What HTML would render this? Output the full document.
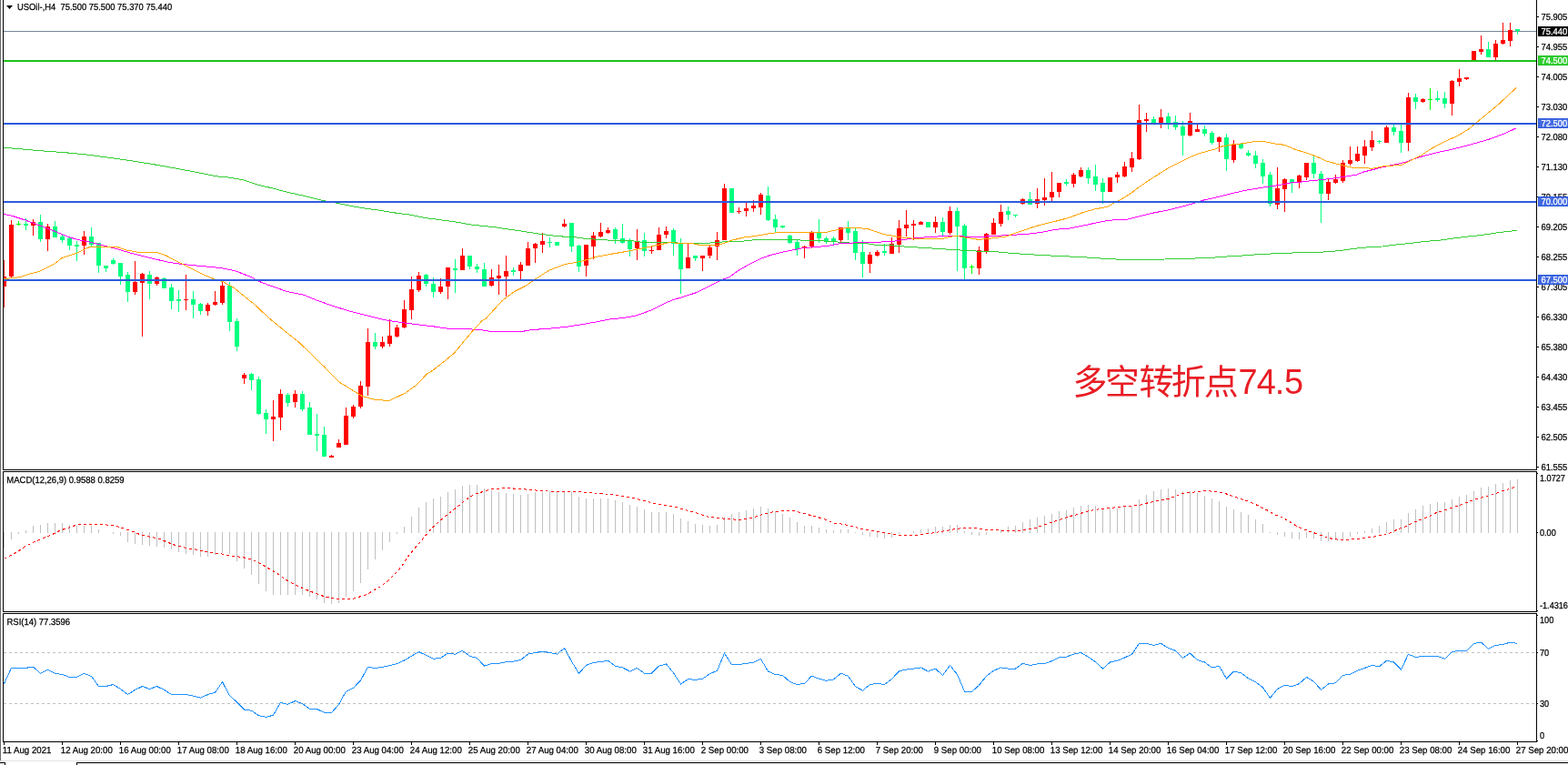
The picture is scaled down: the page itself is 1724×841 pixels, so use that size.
<!DOCTYPE html><html><head><meta charset="utf-8"><title>USOil H4</title><style>html,body{margin:0;padding:0;background:#fff;}svg{display:block;}text{white-space:pre;}</style></head><body><svg width="1724" height="841" viewBox="0 0 1724 841" shape-rendering="crispEdges" font-family="'Liberation Sans', Arial, sans-serif">
<rect x="0" y="0" width="1724" height="841" fill="#FFFFFF"/>
<rect x="0" y="0" width="1" height="836" fill="#696969"/>
<defs><clipPath id="cm"><rect x="4" y="0" width="1685" height="516"/></clipPath><clipPath id="cmacd"><rect x="4" y="519" width="1685" height="153"/></clipPath><clipPath id="crsi"><rect x="4" y="675" width="1685" height="140"/></clipPath></defs>
<g clip-path="url(#cm)">
<rect x="4" y="34" width="1685" height="1" fill="#778899"/>
<rect x="4" y="286" width="1" height="52" fill="#FF0000"/>
<rect x="2" y="304" width="5" height="11" fill="#FF0000"/>
<rect x="12" y="242" width="1" height="64" fill="#FF0000"/>
<rect x="10" y="247" width="5" height="57" fill="#FF0000"/>
<rect x="20" y="243" width="1" height="5" fill="#00FF00"/>
<rect x="18" y="246" width="5" height="1" fill="#00FF00"/>
<rect x="28" y="240" width="1" height="13" fill="#00FF7F"/>
<rect x="26" y="246" width="5" height="2" fill="#00FF7F"/>
<rect x="36" y="241" width="1" height="18" fill="#FF0000"/>
<rect x="34" y="244" width="5" height="4" fill="#FF0000"/>
<rect x="44" y="236" width="1" height="30" fill="#00FF7F"/>
<rect x="42" y="244" width="5" height="19" fill="#00FF7F"/>
<rect x="52" y="246" width="1" height="30" fill="#FF0000"/>
<rect x="50" y="249" width="5" height="14" fill="#FF0000"/>
<rect x="60" y="243" width="1" height="18" fill="#00FF7F"/>
<rect x="58" y="249" width="5" height="12" fill="#00FF7F"/>
<rect x="68" y="258" width="1" height="9" fill="#00FF7F"/>
<rect x="66" y="260" width="5" height="4" fill="#00FF7F"/>
<rect x="76" y="261" width="1" height="14" fill="#00FF7F"/>
<rect x="74" y="262" width="5" height="8" fill="#00FF7F"/>
<rect x="84" y="265" width="1" height="22" fill="#00FF7F"/>
<rect x="82" y="269" width="5" height="2" fill="#00FF7F"/>
<rect x="92" y="254" width="1" height="26" fill="#FF0000"/>
<rect x="90" y="260" width="5" height="10" fill="#FF0000"/>
<rect x="100" y="250" width="1" height="21" fill="#00FF7F"/>
<rect x="98" y="260" width="5" height="9" fill="#00FF7F"/>
<rect x="108" y="267" width="1" height="33" fill="#00FF7F"/>
<rect x="106" y="267" width="5" height="25" fill="#00FF7F"/>
<rect x="116" y="292" width="1" height="7" fill="#00FF7F"/>
<rect x="114" y="292" width="5" height="3" fill="#00FF7F"/>
<rect x="124" y="284" width="1" height="7" fill="#00FF7F"/>
<rect x="122" y="286" width="5" height="4" fill="#00FF7F"/>
<rect x="132" y="289" width="1" height="24" fill="#00FF7F"/>
<rect x="130" y="289" width="5" height="15" fill="#00FF7F"/>
<rect x="140" y="299" width="1" height="33" fill="#00FF7F"/>
<rect x="138" y="302" width="5" height="19" fill="#00FF7F"/>
<rect x="148" y="287" width="1" height="37" fill="#FF0000"/>
<rect x="146" y="310" width="5" height="11" fill="#FF0000"/>
<rect x="156" y="300" width="1" height="70" fill="#FF0000"/>
<rect x="154" y="301" width="5" height="10" fill="#FF0000"/>
<rect x="164" y="298" width="1" height="31" fill="#00FF7F"/>
<rect x="162" y="302" width="5" height="10" fill="#00FF7F"/>
<rect x="172" y="304" width="1" height="10" fill="#FF0000"/>
<rect x="170" y="305" width="5" height="7" fill="#FF0000"/>
<rect x="180" y="305" width="1" height="12" fill="#00FF7F"/>
<rect x="178" y="306" width="5" height="11" fill="#00FF7F"/>
<rect x="188" y="312" width="1" height="28" fill="#00FF7F"/>
<rect x="186" y="316" width="5" height="15" fill="#00FF7F"/>
<rect x="196" y="319" width="1" height="24" fill="#00FF7F"/>
<rect x="194" y="329" width="5" height="2" fill="#00FF7F"/>
<rect x="204" y="302" width="1" height="39" fill="#FF0000"/>
<rect x="202" y="329" width="5" height="1" fill="#FF0000"/>
<rect x="212" y="320" width="1" height="30" fill="#00FF7F"/>
<rect x="210" y="329" width="5" height="6" fill="#00FF7F"/>
<rect x="220" y="333" width="1" height="13" fill="#00FF7F"/>
<rect x="218" y="334" width="5" height="8" fill="#00FF7F"/>
<rect x="228" y="333" width="1" height="14" fill="#FF0000"/>
<rect x="226" y="335" width="5" height="7" fill="#FF0000"/>
<rect x="236" y="320" width="1" height="16" fill="#FF0000"/>
<rect x="234" y="332" width="5" height="3" fill="#FF0000"/>
<rect x="244" y="309" width="1" height="26" fill="#FF0000"/>
<rect x="242" y="314" width="5" height="19" fill="#FF0000"/>
<rect x="252" y="310" width="1" height="54" fill="#00FF7F"/>
<rect x="250" y="314" width="5" height="40" fill="#00FF7F"/>
<rect x="260" y="350" width="1" height="36" fill="#00FF7F"/>
<rect x="258" y="353" width="5" height="28" fill="#00FF7F"/>
<rect x="268" y="410" width="1" height="12" fill="#FF0000"/>
<rect x="266" y="412" width="5" height="4" fill="#FF0000"/>
<rect x="276" y="410" width="1" height="19" fill="#00FF7F"/>
<rect x="274" y="411" width="5" height="7" fill="#00FF7F"/>
<rect x="284" y="414" width="1" height="42" fill="#00FF7F"/>
<rect x="282" y="417" width="5" height="38" fill="#00FF7F"/>
<rect x="292" y="450" width="1" height="27" fill="#00FF7F"/>
<rect x="290" y="454" width="5" height="7" fill="#00FF7F"/>
<rect x="300" y="440" width="1" height="45" fill="#FF0000"/>
<rect x="298" y="458" width="5" height="3" fill="#FF0000"/>
<rect x="308" y="428" width="1" height="45" fill="#FF0000"/>
<rect x="306" y="433" width="5" height="26" fill="#FF0000"/>
<rect x="316" y="432" width="1" height="15" fill="#00FF7F"/>
<rect x="314" y="434" width="5" height="9" fill="#00FF7F"/>
<rect x="324" y="429" width="1" height="19" fill="#FF0000"/>
<rect x="322" y="433" width="5" height="9" fill="#FF0000"/>
<rect x="332" y="430" width="1" height="22" fill="#00FF7F"/>
<rect x="330" y="433" width="5" height="17" fill="#00FF7F"/>
<rect x="340" y="442" width="1" height="36" fill="#00FF7F"/>
<rect x="338" y="448" width="5" height="30" fill="#00FF7F"/>
<rect x="348" y="455" width="1" height="41" fill="#00FF7F"/>
<rect x="346" y="477" width="5" height="2" fill="#00FF7F"/>
<rect x="356" y="469" width="1" height="33" fill="#00FF7F"/>
<rect x="354" y="478" width="5" height="24" fill="#00FF7F"/>
<rect x="364" y="500" width="1" height="3" fill="#FF0000"/>
<rect x="362" y="501" width="5" height="2" fill="#FF0000"/>
<rect x="372" y="483" width="1" height="9" fill="#FF0000"/>
<rect x="370" y="487" width="5" height="5" fill="#FF0000"/>
<rect x="380" y="448" width="1" height="41" fill="#FF0000"/>
<rect x="378" y="457" width="5" height="32" fill="#FF0000"/>
<rect x="388" y="445" width="1" height="15" fill="#FF0000"/>
<rect x="386" y="447" width="5" height="11" fill="#FF0000"/>
<rect x="396" y="419" width="1" height="30" fill="#FF0000"/>
<rect x="394" y="424" width="5" height="23" fill="#FF0000"/>
<rect x="404" y="361" width="1" height="74" fill="#FF0000"/>
<rect x="402" y="376" width="5" height="49" fill="#FF0000"/>
<rect x="412" y="366" width="1" height="18" fill="#00FF7F"/>
<rect x="410" y="376" width="5" height="5" fill="#00FF7F"/>
<rect x="420" y="370" width="1" height="13" fill="#FF0000"/>
<rect x="418" y="376" width="5" height="5" fill="#FF0000"/>
<rect x="428" y="351" width="1" height="30" fill="#FF0000"/>
<rect x="426" y="369" width="5" height="9" fill="#FF0000"/>
<rect x="436" y="357" width="1" height="14" fill="#FF0000"/>
<rect x="434" y="360" width="5" height="10" fill="#FF0000"/>
<rect x="444" y="330" width="1" height="31" fill="#FF0000"/>
<rect x="442" y="340" width="5" height="20" fill="#FF0000"/>
<rect x="452" y="304" width="1" height="47" fill="#FF0000"/>
<rect x="450" y="318" width="5" height="23" fill="#FF0000"/>
<rect x="460" y="299" width="1" height="22" fill="#FF0000"/>
<rect x="458" y="303" width="5" height="16" fill="#FF0000"/>
<rect x="468" y="301" width="1" height="14" fill="#00FF7F"/>
<rect x="466" y="302" width="5" height="10" fill="#00FF7F"/>
<rect x="476" y="305" width="1" height="22" fill="#00FF7F"/>
<rect x="474" y="312" width="5" height="9" fill="#00FF7F"/>
<rect x="484" y="306" width="1" height="17" fill="#FF0000"/>
<rect x="482" y="315" width="5" height="6" fill="#FF0000"/>
<rect x="492" y="294" width="1" height="35" fill="#FF0000"/>
<rect x="490" y="294" width="5" height="21" fill="#FF0000"/>
<rect x="500" y="285" width="1" height="37" fill="#00FF7F"/>
<rect x="498" y="295" width="5" height="2" fill="#00FF7F"/>
<rect x="508" y="273" width="1" height="24" fill="#FF0000"/>
<rect x="506" y="281" width="5" height="16" fill="#FF0000"/>
<rect x="516" y="281" width="1" height="15" fill="#00FF7F"/>
<rect x="514" y="281" width="5" height="12" fill="#00FF7F"/>
<rect x="524" y="290" width="1" height="10" fill="#00FF7F"/>
<rect x="522" y="293" width="5" height="3" fill="#00FF7F"/>
<rect x="532" y="289" width="1" height="26" fill="#00FF7F"/>
<rect x="530" y="296" width="5" height="19" fill="#00FF7F"/>
<rect x="540" y="296" width="1" height="19" fill="#FF0000"/>
<rect x="538" y="305" width="5" height="9" fill="#FF0000"/>
<rect x="548" y="291" width="1" height="33" fill="#FF0000"/>
<rect x="546" y="303" width="5" height="3" fill="#FF0000"/>
<rect x="556" y="281" width="1" height="45" fill="#FF0000"/>
<rect x="554" y="298" width="5" height="6" fill="#FF0000"/>
<rect x="564" y="294" width="1" height="9" fill="#00FF7F"/>
<rect x="562" y="297" width="5" height="2" fill="#00FF7F"/>
<rect x="572" y="288" width="1" height="19" fill="#FF0000"/>
<rect x="570" y="291" width="5" height="7" fill="#FF0000"/>
<rect x="580" y="266" width="1" height="26" fill="#FF0000"/>
<rect x="578" y="273" width="5" height="19" fill="#FF0000"/>
<rect x="588" y="267" width="1" height="22" fill="#FF0000"/>
<rect x="586" y="268" width="5" height="5" fill="#FF0000"/>
<rect x="596" y="256" width="1" height="22" fill="#FF0000"/>
<rect x="594" y="265" width="5" height="4" fill="#FF0000"/>
<rect x="604" y="261" width="1" height="11" fill="#00FF7F"/>
<rect x="602" y="266" width="5" height="1" fill="#00FF7F"/>
<rect x="612" y="266" width="1" height="4" fill="#00FF7F"/>
<rect x="610" y="266" width="5" height="4" fill="#00FF7F"/>
<rect x="620" y="241" width="1" height="9" fill="#FF0000"/>
<rect x="618" y="246" width="5" height="3" fill="#FF0000"/>
<rect x="628" y="245" width="1" height="32" fill="#00FF7F"/>
<rect x="626" y="245" width="5" height="26" fill="#00FF7F"/>
<rect x="636" y="269" width="1" height="30" fill="#00FF7F"/>
<rect x="634" y="270" width="5" height="23" fill="#00FF7F"/>
<rect x="644" y="269" width="1" height="35" fill="#FF0000"/>
<rect x="642" y="269" width="5" height="23" fill="#FF0000"/>
<rect x="652" y="255" width="1" height="30" fill="#FF0000"/>
<rect x="650" y="259" width="5" height="12" fill="#FF0000"/>
<rect x="660" y="245" width="1" height="16" fill="#FF0000"/>
<rect x="658" y="255" width="5" height="5" fill="#FF0000"/>
<rect x="668" y="250" width="1" height="7" fill="#FF0000"/>
<rect x="666" y="253" width="5" height="3" fill="#FF0000"/>
<rect x="676" y="250" width="1" height="18" fill="#00FF7F"/>
<rect x="674" y="252" width="5" height="11" fill="#00FF7F"/>
<rect x="684" y="246" width="1" height="22" fill="#00FF7F"/>
<rect x="682" y="262" width="5" height="5" fill="#00FF7F"/>
<rect x="692" y="262" width="1" height="20" fill="#00FF7F"/>
<rect x="690" y="265" width="5" height="9" fill="#00FF7F"/>
<rect x="700" y="252" width="1" height="34" fill="#FF0000"/>
<rect x="698" y="266" width="5" height="7" fill="#FF0000"/>
<rect x="708" y="256" width="1" height="26" fill="#00FF7F"/>
<rect x="706" y="264" width="5" height="12" fill="#00FF7F"/>
<rect x="716" y="270" width="1" height="9" fill="#FF0000"/>
<rect x="714" y="275" width="5" height="1" fill="#FF0000"/>
<rect x="724" y="250" width="1" height="25" fill="#FF0000"/>
<rect x="722" y="258" width="5" height="17" fill="#FF0000"/>
<rect x="732" y="249" width="1" height="13" fill="#FF0000"/>
<rect x="730" y="254" width="5" height="4" fill="#FF0000"/>
<rect x="740" y="251" width="1" height="30" fill="#00FF7F"/>
<rect x="738" y="253" width="5" height="15" fill="#00FF7F"/>
<rect x="748" y="262" width="1" height="61" fill="#00FF7F"/>
<rect x="746" y="267" width="5" height="29" fill="#00FF7F"/>
<rect x="756" y="268" width="1" height="27" fill="#FF0000"/>
<rect x="754" y="283" width="5" height="12" fill="#FF0000"/>
<rect x="764" y="281" width="1" height="6" fill="#00FF7F"/>
<rect x="762" y="281" width="5" height="3" fill="#00FF7F"/>
<rect x="772" y="281" width="1" height="17" fill="#FF0000"/>
<rect x="770" y="281" width="5" height="3" fill="#FF0000"/>
<rect x="780" y="270" width="1" height="14" fill="#FF0000"/>
<rect x="778" y="272" width="5" height="9" fill="#FF0000"/>
<rect x="788" y="255" width="1" height="31" fill="#FF0000"/>
<rect x="786" y="264" width="5" height="7" fill="#FF0000"/>
<rect x="796" y="202" width="1" height="62" fill="#FF0000"/>
<rect x="794" y="207" width="5" height="57" fill="#FF0000"/>
<rect x="804" y="207" width="1" height="27" fill="#00FF7F"/>
<rect x="802" y="207" width="5" height="27" fill="#00FF7F"/>
<rect x="812" y="228" width="1" height="7" fill="#FF0000"/>
<rect x="810" y="232" width="5" height="1" fill="#FF0000"/>
<rect x="820" y="223" width="1" height="15" fill="#FF0000"/>
<rect x="818" y="229" width="5" height="3" fill="#FF0000"/>
<rect x="828" y="220" width="1" height="13" fill="#FF0000"/>
<rect x="826" y="226" width="5" height="3" fill="#FF0000"/>
<rect x="836" y="212" width="1" height="24" fill="#FF0000"/>
<rect x="834" y="214" width="5" height="14" fill="#FF0000"/>
<rect x="844" y="205" width="1" height="38" fill="#00FF7F"/>
<rect x="842" y="215" width="5" height="27" fill="#00FF7F"/>
<rect x="852" y="236" width="1" height="19" fill="#00FF7F"/>
<rect x="850" y="241" width="5" height="9" fill="#00FF7F"/>
<rect x="860" y="248" width="1" height="3" fill="#00FF7F"/>
<rect x="858" y="248" width="5" height="2" fill="#00FF7F"/>
<rect x="868" y="258" width="1" height="10" fill="#00FF7F"/>
<rect x="866" y="259" width="5" height="8" fill="#00FF7F"/>
<rect x="876" y="263" width="1" height="18" fill="#00FF7F"/>
<rect x="874" y="266" width="5" height="8" fill="#00FF7F"/>
<rect x="884" y="270" width="1" height="14" fill="#FF0000"/>
<rect x="882" y="271" width="5" height="2" fill="#FF0000"/>
<rect x="892" y="254" width="1" height="19" fill="#FF0000"/>
<rect x="890" y="256" width="5" height="15" fill="#FF0000"/>
<rect x="900" y="241" width="1" height="26" fill="#00FF7F"/>
<rect x="898" y="256" width="5" height="6" fill="#00FF7F"/>
<rect x="908" y="260" width="1" height="8" fill="#00FF7F"/>
<rect x="906" y="262" width="5" height="3" fill="#00FF7F"/>
<rect x="916" y="260" width="1" height="9" fill="#00FF7F"/>
<rect x="914" y="262" width="5" height="3" fill="#00FF7F"/>
<rect x="924" y="250" width="1" height="16" fill="#FF0000"/>
<rect x="922" y="250" width="5" height="14" fill="#FF0000"/>
<rect x="932" y="243" width="1" height="21" fill="#00FF7F"/>
<rect x="930" y="251" width="5" height="5" fill="#00FF7F"/>
<rect x="940" y="251" width="1" height="35" fill="#00FF7F"/>
<rect x="938" y="254" width="5" height="24" fill="#00FF7F"/>
<rect x="948" y="264" width="1" height="41" fill="#00FF7F"/>
<rect x="946" y="277" width="5" height="13" fill="#00FF7F"/>
<rect x="956" y="277" width="1" height="23" fill="#FF0000"/>
<rect x="954" y="280" width="5" height="10" fill="#FF0000"/>
<rect x="964" y="275" width="1" height="7" fill="#FF0000"/>
<rect x="962" y="277" width="5" height="4" fill="#FF0000"/>
<rect x="972" y="268" width="1" height="13" fill="#00FF7F"/>
<rect x="970" y="276" width="5" height="2" fill="#00FF7F"/>
<rect x="980" y="261" width="1" height="18" fill="#FF0000"/>
<rect x="978" y="268" width="5" height="11" fill="#FF0000"/>
<rect x="988" y="242" width="1" height="36" fill="#FF0000"/>
<rect x="986" y="251" width="5" height="18" fill="#FF0000"/>
<rect x="996" y="231" width="1" height="29" fill="#FF0000"/>
<rect x="994" y="247" width="5" height="4" fill="#FF0000"/>
<rect x="1004" y="242" width="1" height="22" fill="#FF0000"/>
<rect x="1002" y="246" width="5" height="2" fill="#FF0000"/>
<rect x="1012" y="243" width="1" height="4" fill="#FF0000"/>
<rect x="1010" y="244" width="5" height="3" fill="#FF0000"/>
<rect x="1020" y="244" width="1" height="6" fill="#00FF7F"/>
<rect x="1018" y="244" width="5" height="6" fill="#00FF7F"/>
<rect x="1028" y="238" width="1" height="18" fill="#FF0000"/>
<rect x="1026" y="244" width="5" height="6" fill="#FF0000"/>
<rect x="1036" y="239" width="1" height="20" fill="#00FF7F"/>
<rect x="1034" y="244" width="5" height="11" fill="#00FF7F"/>
<rect x="1044" y="227" width="1" height="31" fill="#FF0000"/>
<rect x="1042" y="232" width="5" height="24" fill="#FF0000"/>
<rect x="1052" y="228" width="1" height="70" fill="#00FF7F"/>
<rect x="1050" y="232" width="5" height="17" fill="#00FF7F"/>
<rect x="1060" y="246" width="1" height="61" fill="#00FF7F"/>
<rect x="1058" y="248" width="5" height="47" fill="#00FF7F"/>
<rect x="1068" y="291" width="1" height="10" fill="#00FF00"/>
<rect x="1066" y="293" width="5" height="1" fill="#00FF00"/>
<rect x="1076" y="271" width="1" height="31" fill="#FF0000"/>
<rect x="1074" y="275" width="5" height="20" fill="#FF0000"/>
<rect x="1084" y="256" width="1" height="23" fill="#FF0000"/>
<rect x="1082" y="257" width="5" height="19" fill="#FF0000"/>
<rect x="1092" y="240" width="1" height="18" fill="#FF0000"/>
<rect x="1090" y="245" width="5" height="13" fill="#FF0000"/>
<rect x="1100" y="225" width="1" height="24" fill="#FF0000"/>
<rect x="1098" y="233" width="5" height="13" fill="#FF0000"/>
<rect x="1108" y="227" width="1" height="15" fill="#00FF7F"/>
<rect x="1106" y="232" width="5" height="4" fill="#00FF7F"/>
<rect x="1116" y="236" width="1" height="3" fill="#00FF7F"/>
<rect x="1114" y="236" width="5" height="1" fill="#00FF7F"/>
<rect x="1124" y="218" width="1" height="7" fill="#FF0000"/>
<rect x="1122" y="219" width="5" height="5" fill="#FF0000"/>
<rect x="1132" y="211" width="1" height="14" fill="#00FF7F"/>
<rect x="1130" y="219" width="5" height="6" fill="#00FF7F"/>
<rect x="1140" y="207" width="1" height="22" fill="#FF0000"/>
<rect x="1138" y="219" width="5" height="5" fill="#FF0000"/>
<rect x="1148" y="196" width="1" height="30" fill="#FF0000"/>
<rect x="1146" y="217" width="5" height="3" fill="#FF0000"/>
<rect x="1156" y="189" width="1" height="32" fill="#FF0000"/>
<rect x="1154" y="211" width="5" height="6" fill="#FF0000"/>
<rect x="1164" y="201" width="1" height="16" fill="#FF0000"/>
<rect x="1162" y="201" width="5" height="10" fill="#FF0000"/>
<rect x="1172" y="197" width="1" height="7" fill="#00FF7F"/>
<rect x="1170" y="200" width="5" height="2" fill="#00FF7F"/>
<rect x="1180" y="190" width="1" height="16" fill="#FF0000"/>
<rect x="1178" y="192" width="5" height="10" fill="#FF0000"/>
<rect x="1188" y="184" width="1" height="11" fill="#FF0000"/>
<rect x="1186" y="187" width="5" height="7" fill="#FF0000"/>
<rect x="1196" y="184" width="1" height="18" fill="#00FF7F"/>
<rect x="1194" y="187" width="5" height="9" fill="#00FF7F"/>
<rect x="1204" y="181" width="1" height="29" fill="#00FF7F"/>
<rect x="1202" y="194" width="5" height="9" fill="#00FF7F"/>
<rect x="1212" y="196" width="1" height="28" fill="#00FF7F"/>
<rect x="1210" y="201" width="5" height="10" fill="#00FF7F"/>
<rect x="1220" y="195" width="1" height="16" fill="#FF0000"/>
<rect x="1218" y="195" width="5" height="16" fill="#FF0000"/>
<rect x="1228" y="189" width="1" height="12" fill="#FF0000"/>
<rect x="1226" y="192" width="5" height="3" fill="#FF0000"/>
<rect x="1236" y="178" width="1" height="17" fill="#FF0000"/>
<rect x="1234" y="183" width="5" height="11" fill="#FF0000"/>
<rect x="1244" y="167" width="1" height="22" fill="#FF0000"/>
<rect x="1242" y="174" width="5" height="10" fill="#FF0000"/>
<rect x="1252" y="115" width="1" height="61" fill="#FF0000"/>
<rect x="1250" y="132" width="5" height="43" fill="#FF0000"/>
<rect x="1260" y="124" width="1" height="21" fill="#FF0000"/>
<rect x="1258" y="131" width="5" height="2" fill="#FF0000"/>
<rect x="1268" y="128" width="1" height="7" fill="#00FF7F"/>
<rect x="1266" y="131" width="5" height="4" fill="#00FF7F"/>
<rect x="1276" y="120" width="1" height="21" fill="#FF0000"/>
<rect x="1274" y="129" width="5" height="6" fill="#FF0000"/>
<rect x="1284" y="124" width="1" height="18" fill="#00FF7F"/>
<rect x="1282" y="128" width="5" height="7" fill="#00FF7F"/>
<rect x="1292" y="127" width="1" height="16" fill="#00FF7F"/>
<rect x="1290" y="134" width="5" height="6" fill="#00FF7F"/>
<rect x="1300" y="133" width="1" height="38" fill="#00FF7F"/>
<rect x="1298" y="139" width="5" height="10" fill="#00FF7F"/>
<rect x="1308" y="124" width="1" height="26" fill="#FF0000"/>
<rect x="1306" y="133" width="5" height="16" fill="#FF0000"/>
<rect x="1316" y="137" width="1" height="8" fill="#FF0000"/>
<rect x="1314" y="142" width="5" height="3" fill="#FF0000"/>
<rect x="1324" y="138" width="1" height="12" fill="#00FF7F"/>
<rect x="1322" y="142" width="5" height="5" fill="#00FF7F"/>
<rect x="1332" y="144" width="1" height="15" fill="#00FF7F"/>
<rect x="1330" y="146" width="5" height="11" fill="#00FF7F"/>
<rect x="1340" y="150" width="1" height="17" fill="#FF0000"/>
<rect x="1338" y="151" width="5" height="5" fill="#FF0000"/>
<rect x="1348" y="147" width="1" height="41" fill="#00FF7F"/>
<rect x="1346" y="151" width="5" height="24" fill="#00FF7F"/>
<rect x="1356" y="154" width="1" height="25" fill="#FF0000"/>
<rect x="1354" y="159" width="5" height="17" fill="#FF0000"/>
<rect x="1364" y="158" width="1" height="6" fill="#00FF7F"/>
<rect x="1362" y="158" width="5" height="5" fill="#00FF7F"/>
<rect x="1372" y="165" width="1" height="7" fill="#00FF7F"/>
<rect x="1370" y="168" width="5" height="3" fill="#00FF7F"/>
<rect x="1380" y="166" width="1" height="19" fill="#00FF7F"/>
<rect x="1378" y="171" width="5" height="9" fill="#00FF7F"/>
<rect x="1388" y="175" width="1" height="27" fill="#00FF7F"/>
<rect x="1386" y="179" width="5" height="15" fill="#00FF7F"/>
<rect x="1396" y="189" width="1" height="38" fill="#00FF7F"/>
<rect x="1394" y="192" width="5" height="32" fill="#00FF7F"/>
<rect x="1404" y="184" width="1" height="46" fill="#FF0000"/>
<rect x="1402" y="207" width="5" height="18" fill="#FF0000"/>
<rect x="1412" y="196" width="1" height="37" fill="#FF0000"/>
<rect x="1410" y="197" width="5" height="11" fill="#FF0000"/>
<rect x="1420" y="197" width="1" height="15" fill="#00FF7F"/>
<rect x="1418" y="197" width="5" height="4" fill="#00FF7F"/>
<rect x="1428" y="192" width="1" height="15" fill="#FF0000"/>
<rect x="1426" y="193" width="5" height="7" fill="#FF0000"/>
<rect x="1436" y="179" width="1" height="19" fill="#FF0000"/>
<rect x="1434" y="179" width="5" height="16" fill="#FF0000"/>
<rect x="1444" y="172" width="1" height="24" fill="#00FF7F"/>
<rect x="1442" y="179" width="5" height="12" fill="#00FF7F"/>
<rect x="1452" y="188" width="1" height="57" fill="#00FF7F"/>
<rect x="1450" y="191" width="5" height="22" fill="#00FF7F"/>
<rect x="1460" y="197" width="1" height="23" fill="#FF0000"/>
<rect x="1458" y="200" width="5" height="13" fill="#FF0000"/>
<rect x="1468" y="192" width="1" height="10" fill="#FF0000"/>
<rect x="1466" y="197" width="5" height="4" fill="#FF0000"/>
<rect x="1476" y="176" width="1" height="25" fill="#FF0000"/>
<rect x="1474" y="179" width="5" height="20" fill="#FF0000"/>
<rect x="1484" y="161" width="1" height="21" fill="#FF0000"/>
<rect x="1482" y="176" width="5" height="4" fill="#FF0000"/>
<rect x="1492" y="161" width="1" height="17" fill="#FF0000"/>
<rect x="1490" y="169" width="5" height="8" fill="#FF0000"/>
<rect x="1500" y="154" width="1" height="26" fill="#FF0000"/>
<rect x="1498" y="161" width="5" height="10" fill="#FF0000"/>
<rect x="1508" y="144" width="1" height="22" fill="#FF0000"/>
<rect x="1506" y="154" width="5" height="8" fill="#FF0000"/>
<rect x="1516" y="154" width="1" height="4" fill="#00FF7F"/>
<rect x="1514" y="155" width="5" height="1" fill="#00FF7F"/>
<rect x="1524" y="138" width="1" height="19" fill="#FF0000"/>
<rect x="1522" y="140" width="5" height="17" fill="#FF0000"/>
<rect x="1532" y="137" width="1" height="12" fill="#00FF7F"/>
<rect x="1530" y="140" width="5" height="5" fill="#00FF7F"/>
<rect x="1540" y="137" width="1" height="31" fill="#00FF7F"/>
<rect x="1538" y="144" width="5" height="13" fill="#00FF7F"/>
<rect x="1548" y="102" width="1" height="64" fill="#FF0000"/>
<rect x="1546" y="107" width="5" height="50" fill="#FF0000"/>
<rect x="1556" y="103" width="1" height="17" fill="#00FF7F"/>
<rect x="1554" y="107" width="5" height="5" fill="#00FF7F"/>
<rect x="1564" y="108" width="1" height="5" fill="#FF0000"/>
<rect x="1562" y="109" width="5" height="3" fill="#FF0000"/>
<rect x="1572" y="97" width="1" height="24" fill="#00FF00"/>
<rect x="1570" y="109" width="5" height="1" fill="#00FF00"/>
<rect x="1580" y="100" width="1" height="12" fill="#00FF7F"/>
<rect x="1578" y="108" width="5" height="2" fill="#00FF7F"/>
<rect x="1588" y="101" width="1" height="18" fill="#00FF7F"/>
<rect x="1586" y="108" width="5" height="6" fill="#00FF7F"/>
<rect x="1596" y="88" width="1" height="39" fill="#FF0000"/>
<rect x="1594" y="89" width="5" height="25" fill="#FF0000"/>
<rect x="1604" y="76" width="1" height="19" fill="#FF0000"/>
<rect x="1602" y="86" width="5" height="4" fill="#FF0000"/>
<rect x="1612" y="85" width="1" height="3" fill="#FF0000"/>
<rect x="1610" y="85" width="5" height="2" fill="#FF0000"/>
<rect x="1620" y="56" width="1" height="10" fill="#FF0000"/>
<rect x="1618" y="56" width="5" height="10" fill="#FF0000"/>
<rect x="1628" y="39" width="1" height="21" fill="#FF0000"/>
<rect x="1626" y="54" width="5" height="3" fill="#FF0000"/>
<rect x="1636" y="46" width="1" height="17" fill="#00FF7F"/>
<rect x="1634" y="54" width="5" height="9" fill="#00FF7F"/>
<rect x="1644" y="44" width="1" height="22" fill="#FF0000"/>
<rect x="1642" y="48" width="5" height="15" fill="#FF0000"/>
<rect x="1652" y="25" width="1" height="24" fill="#FF0000"/>
<rect x="1650" y="44" width="5" height="4" fill="#FF0000"/>
<rect x="1660" y="25" width="1" height="26" fill="#FF0000"/>
<rect x="1658" y="33" width="5" height="12" fill="#FF0000"/>
<rect x="1668" y="32" width="1" height="6" fill="#00FF7F"/>
<rect x="1666" y="32" width="5" height="2" fill="#00FF7F"/>
<polyline points="4.0,162.2 47.6,166.0 71.3,167.7 95.0,170.0 118.9,173.1 142.7,176.5 166.5,180.3 190.0,184.5 214.0,189.0 237.8,193.8 250.0,194.8 266.8,197.6 283.6,203.2 300.5,207.2 317.3,211.6 334.1,215.3 354.3,220.3 367.7,222.8 384.6,226.2 401.4,229.1 418.2,231.3 435.0,234.1 451.8,236.3 468.7,239.7 485.5,241.9 502.3,244.2 519.1,247.2 530.0,248.3 543.0,249.6 556.0,251.6 569.2,253.5 582.3,255.5 595.4,257.5 608.4,259.0 621.5,260.3 630.7,260.5 641.4,262.1 657.5,263.4 673.5,264.3 695.0,264.8 705.7,266.2 720.0,266.4 745.0,267.0 778.0,267.2 800.0,265.6 815.8,265.3 832.8,263.4 879.0,263.4 881.4,264.5 905.0,264.4 907.0,265.7 920.4,265.7 922.0,266.6 952.7,267.6 962.2,269.2 977.4,269.5 988.0,270.4 992.0,270.9 1016.7,272.5 1032.7,273.5 1048.8,274.6 1064.9,275.5 1076.0,276.2 1096.7,276.9 1113.7,278.6 1129.4,279.5 1145.0,280.5 1164.0,281.5 1185.6,282.4 1201.5,283.4 1217.3,284.5 1234.0,285.4 1272.0,285.2 1303.3,284.5 1336.0,283.0 1352.0,281.8 1369.0,280.8 1384.7,279.6 1408.0,278.5 1432.0,277.6 1455.4,277.0 1471.9,275.7 1488.3,273.4 1504.0,271.8 1519.6,271.0 1535.3,269.0 1551.0,267.4 1566.6,265.4 1582.3,264.3 1598.0,262.0 1613.6,260.0 1629.3,258.5 1645.0,256.0 1667.6,253.3" fill="none" stroke="#32CD32" stroke-width="1" />
<polyline points="4.0,235.5 13.0,237.2 28.8,242.4 43.0,247.6 60.0,254.2 75.8,260.7 90.0,264.6 96.0,265.5 100.0,266.6 111.5,269.3 127.0,273.2 142.4,277.8 157.8,281.7 173.3,285.5 185.6,288.3 196.0,289.9 201.0,290.5 243.0,294.6 258.5,297.7 278.5,305.5 280.0,307.5 297.8,314.3 315.7,320.5 333.5,324.1 351.3,331.2 369.2,337.4 387.0,342.8 404.8,347.3 422.7,351.7 440.5,354.4 458.3,356.7 476.1,358.8 494.0,361.5 511.8,361.5 530.0,362.8 537.8,364.2 575.4,364.2 584.8,362.6 608.3,360.8 624.0,359.2 639.6,356.7 655.3,354.0 671.0,350.9 686.6,349.3 699.1,347.0 714.8,341.5 732.0,332.9 742.0,329.0 749.3,326.9 764.9,321.9 780.6,314.1 793.1,307.8 801.8,304.8 812.0,297.3 824.9,290.0 836.2,284.3 847.5,280.3 858.8,277.5 870.0,275.2 881.4,273.0 892.7,271.8 902.3,271.1 911.8,270.0 919.4,268.5 926.0,267.3 935.6,267.3 945.0,266.3 967.0,266.2 973.6,265.4 983.0,265.2 992.0,263.7 1000.6,262.6 1008.0,261.5 1024.0,260.5 1040.0,259.4 1056.0,259.4 1064.0,260.6 1077.0,260.6 1090.0,259.5 1109.8,258.6 1122.8,257.7 1135.9,256.7 1149.0,254.7 1160.0,252.3 1174.8,251.3 1189.6,248.3 1204.4,245.2 1219.2,242.2 1238.9,241.2 1253.7,237.5 1268.5,234.0 1283.3,231.1 1298.0,227.6 1313.8,223.2 1322.7,220.2 1331.9,218.2 1343.8,215.3 1355.7,212.3 1367.6,209.7 1379.5,207.5 1391.3,205.7 1403.2,204.0 1420.0,200.9 1431.8,199.9 1443.7,198.5 1455.6,197.3 1467.5,195.8 1479.3,194.2 1491.2,192.2 1498.4,189.3 1519.8,183.9 1531.7,181.3 1546.0,178.2 1555.5,174.4 1567.3,170.9 1579.2,167.9 1596.0,164.3 1615.0,159.5 1637.0,153.2 1653.3,147.2 1667.0,140.9" fill="none" stroke="#FF00FF" stroke-width="1" />
<polyline points="4.0,306.5 15.7,305.5 21.0,304.8 26.0,303.5 34.0,300.6 43.0,298.6 52.0,294.0 60.0,290.0 68.0,283.6 73.0,282.0 84.0,278.4 92.0,274.3 96.7,272.3 99.4,271.3 119.3,271.3 126.0,271.2 130.0,271.8 139.0,275.0 153.0,277.5 173.0,277.5 182.5,281.0 195.7,287.9 199.7,290.0 223.0,301.6 236.0,307.0 244.5,309.3 257.0,316.3 274.0,330.0 280.0,334.8 296.0,349.9 315.7,366.0 328.1,375.8 342.4,389.2 356.7,403.4 372.7,419.8 387.0,428.7 397.7,435.2 412.0,439.4 428.0,440.5 445.8,432.0 458.3,423.0 469.0,411.4 476.1,407.0 488.6,397.2 499.3,388.3 511.8,373.1 522.5,360.6 530.0,352.6 534.4,350.0 551.8,330.9 565.7,320.4 577.9,314.3 586.6,308.3 604.0,297.0 621.4,290.5 638.8,287.4 656.2,282.2 673.6,279.0 691.0,276.1 708.4,272.6 730.0,267.9 737.0,266.5 745.3,267.4 762.0,267.9 770.0,269.5 781.9,269.5 788.5,269.9 798.5,266.5 803.4,264.5 812.0,262.4 817.0,261.1 830.5,259.4 845.0,256.9 856.5,255.5 900.0,255.5 909.0,255.2 921.3,252.4 930.8,250.5 944.0,250.5 954.6,251.7 964.0,255.0 973.6,258.0 983.0,259.5 988.0,260.6 997.4,261.5 1008.0,262.8 1024.0,262.8 1038.0,262.0 1045.6,260.1 1053.0,259.6 1061.7,261.2 1076.0,263.4 1094.0,261.6 1105.8,260.0 1119.0,255.4 1136.0,249.5 1149.0,246.0 1160.0,243.4 1172.8,240.2 1189.6,234.0 1204.4,229.6 1213.3,228.3 1219.2,226.6 1225.0,222.9 1231.0,220.2 1243.8,212.3 1250.0,207.3 1260.6,200.0 1269.2,194.4 1285.3,184.2 1296.0,178.9 1306.7,173.5 1317.4,169.2 1328.0,166.0 1336.0,163.9 1343.8,160.9 1355.7,158.8 1367.6,157.6 1379.5,155.5 1390.0,155.5 1403.0,158.2 1412.7,159.4 1420.0,162.6 1425.8,164.9 1437.7,168.4 1447.2,172.0 1459.0,177.3 1472.0,180.7 1481.7,183.3 1490.0,184.7 1503.0,184.7 1508.0,185.4 1519.8,183.0 1541.2,181.3 1549.5,177.4 1561.4,171.5 1573.3,163.7 1585.2,157.2 1604.0,148.6 1615.0,141.7 1631.5,128.0 1648.0,114.4 1667.0,96.6" fill="none" stroke="#FFA500" stroke-width="1" />
<rect x="4" y="66" width="1685" height="2" fill="#1EC31E"/>
<rect x="4" y="135" width="1685" height="2" fill="#2D5BDC"/>
<rect x="4" y="221" width="1685" height="2" fill="#2D5BDC"/>
<rect x="4" y="307" width="1685" height="2" fill="#2D5BDC"/>
</g>
<text x="1179.5 1214.8 1252.6 1287.8 1323.8 1361.4 1381.8 1401.8 1411.9" y="433" font-size="38" fill="#E81E25" font-family="'Liberation Sans', 'Noto Sans CJK SC', sans-serif">多空转折点74.5</text>
<polygon points="7,6 14,6 10.5,10" fill="#000" shape-rendering="auto"/>
<text transform="translate(19,11) scale(0.93,1)" font-size="10.1" fill="#000" stroke="#000" stroke-width="0.25" text-rendering="geometricPrecision" >USOil-,H4&#160;&#160;75.500 75.500 75.370 75.440</text>
<g clip-path="url(#cmacd)">
<rect x="4" y="585" width="1" height="17" fill="#C0C0C0"/>
<rect x="12" y="585" width="1" height="8" fill="#C0C0C0"/>
<rect x="20" y="585" width="1" height="2" fill="#C0C0C0"/>
<rect x="28" y="583" width="1" height="3" fill="#C0C0C0"/>
<rect x="36" y="578" width="1" height="8" fill="#C0C0C0"/>
<rect x="44" y="577" width="1" height="9" fill="#C0C0C0"/>
<rect x="52" y="575" width="1" height="11" fill="#C0C0C0"/>
<rect x="60" y="575" width="1" height="11" fill="#C0C0C0"/>
<rect x="68" y="575" width="1" height="11" fill="#C0C0C0"/>
<rect x="76" y="577" width="1" height="9" fill="#C0C0C0"/>
<rect x="84" y="578" width="1" height="8" fill="#C0C0C0"/>
<rect x="92" y="578" width="1" height="8" fill="#C0C0C0"/>
<rect x="100" y="578" width="1" height="8" fill="#C0C0C0"/>
<rect x="108" y="582" width="1" height="4" fill="#C0C0C0"/>
<rect x="124" y="585" width="1" height="2" fill="#C0C0C0"/>
<rect x="132" y="585" width="1" height="4" fill="#C0C0C0"/>
<rect x="140" y="585" width="1" height="11" fill="#C0C0C0"/>
<rect x="148" y="585" width="1" height="13" fill="#C0C0C0"/>
<rect x="156" y="585" width="1" height="14" fill="#C0C0C0"/>
<rect x="164" y="585" width="1" height="15" fill="#C0C0C0"/>
<rect x="172" y="585" width="1" height="16" fill="#C0C0C0"/>
<rect x="180" y="585" width="1" height="17" fill="#C0C0C0"/>
<rect x="188" y="585" width="1" height="19" fill="#C0C0C0"/>
<rect x="196" y="585" width="1" height="22" fill="#C0C0C0"/>
<rect x="204" y="585" width="1" height="24" fill="#C0C0C0"/>
<rect x="212" y="585" width="1" height="25" fill="#C0C0C0"/>
<rect x="220" y="585" width="1" height="27" fill="#C0C0C0"/>
<rect x="228" y="585" width="1" height="27" fill="#C0C0C0"/>
<rect x="236" y="585" width="1" height="25" fill="#C0C0C0"/>
<rect x="244" y="585" width="1" height="23" fill="#C0C0C0"/>
<rect x="252" y="585" width="1" height="24" fill="#C0C0C0"/>
<rect x="260" y="585" width="1" height="32" fill="#C0C0C0"/>
<rect x="268" y="585" width="1" height="40" fill="#C0C0C0"/>
<rect x="276" y="585" width="1" height="47" fill="#C0C0C0"/>
<rect x="284" y="585" width="1" height="57" fill="#C0C0C0"/>
<rect x="292" y="585" width="1" height="65" fill="#C0C0C0"/>
<rect x="300" y="585" width="1" height="69" fill="#C0C0C0"/>
<rect x="308" y="585" width="1" height="69" fill="#C0C0C0"/>
<rect x="316" y="585" width="1" height="69" fill="#C0C0C0"/>
<rect x="324" y="585" width="1" height="69" fill="#C0C0C0"/>
<rect x="332" y="585" width="1" height="69" fill="#C0C0C0"/>
<rect x="340" y="585" width="1" height="71" fill="#C0C0C0"/>
<rect x="348" y="585" width="1" height="74" fill="#C0C0C0"/>
<rect x="356" y="585" width="1" height="78" fill="#C0C0C0"/>
<rect x="364" y="585" width="1" height="79" fill="#C0C0C0"/>
<rect x="372" y="585" width="1" height="78" fill="#C0C0C0"/>
<rect x="380" y="585" width="1" height="71" fill="#C0C0C0"/>
<rect x="388" y="585" width="1" height="65" fill="#C0C0C0"/>
<rect x="396" y="585" width="1" height="56" fill="#C0C0C0"/>
<rect x="404" y="585" width="1" height="41" fill="#C0C0C0"/>
<rect x="412" y="585" width="1" height="30" fill="#C0C0C0"/>
<rect x="420" y="585" width="1" height="20" fill="#C0C0C0"/>
<rect x="428" y="585" width="1" height="11" fill="#C0C0C0"/>
<rect x="436" y="585" width="1" height="2" fill="#C0C0C0"/>
<rect x="444" y="579" width="1" height="7" fill="#C0C0C0"/>
<rect x="452" y="568" width="1" height="18" fill="#C0C0C0"/>
<rect x="460" y="558" width="1" height="28" fill="#C0C0C0"/>
<rect x="468" y="552" width="1" height="34" fill="#C0C0C0"/>
<rect x="476" y="548" width="1" height="38" fill="#C0C0C0"/>
<rect x="484" y="546" width="1" height="40" fill="#C0C0C0"/>
<rect x="492" y="541" width="1" height="45" fill="#C0C0C0"/>
<rect x="500" y="538" width="1" height="48" fill="#C0C0C0"/>
<rect x="508" y="534" width="1" height="52" fill="#C0C0C0"/>
<rect x="516" y="533" width="1" height="53" fill="#C0C0C0"/>
<rect x="524" y="533" width="1" height="53" fill="#C0C0C0"/>
<rect x="532" y="537" width="1" height="49" fill="#C0C0C0"/>
<rect x="540" y="539" width="1" height="47" fill="#C0C0C0"/>
<rect x="548" y="541" width="1" height="45" fill="#C0C0C0"/>
<rect x="556" y="542" width="1" height="44" fill="#C0C0C0"/>
<rect x="564" y="543" width="1" height="43" fill="#C0C0C0"/>
<rect x="572" y="544" width="1" height="42" fill="#C0C0C0"/>
<rect x="580" y="543" width="1" height="43" fill="#C0C0C0"/>
<rect x="588" y="541" width="1" height="45" fill="#C0C0C0"/>
<rect x="596" y="541" width="1" height="45" fill="#C0C0C0"/>
<rect x="604" y="540" width="1" height="46" fill="#C0C0C0"/>
<rect x="612" y="541" width="1" height="45" fill="#C0C0C0"/>
<rect x="620" y="540" width="1" height="46" fill="#C0C0C0"/>
<rect x="628" y="541" width="1" height="45" fill="#C0C0C0"/>
<rect x="636" y="546" width="1" height="40" fill="#C0C0C0"/>
<rect x="644" y="548" width="1" height="38" fill="#C0C0C0"/>
<rect x="652" y="548" width="1" height="38" fill="#C0C0C0"/>
<rect x="660" y="548" width="1" height="38" fill="#C0C0C0"/>
<rect x="668" y="548" width="1" height="38" fill="#C0C0C0"/>
<rect x="676" y="550" width="1" height="36" fill="#C0C0C0"/>
<rect x="684" y="552" width="1" height="34" fill="#C0C0C0"/>
<rect x="692" y="555" width="1" height="31" fill="#C0C0C0"/>
<rect x="700" y="557" width="1" height="29" fill="#C0C0C0"/>
<rect x="708" y="560" width="1" height="26" fill="#C0C0C0"/>
<rect x="716" y="563" width="1" height="23" fill="#C0C0C0"/>
<rect x="724" y="563" width="1" height="23" fill="#C0C0C0"/>
<rect x="732" y="563" width="1" height="23" fill="#C0C0C0"/>
<rect x="740" y="565" width="1" height="21" fill="#C0C0C0"/>
<rect x="748" y="570" width="1" height="16" fill="#C0C0C0"/>
<rect x="756" y="573" width="1" height="13" fill="#C0C0C0"/>
<rect x="764" y="576" width="1" height="10" fill="#C0C0C0"/>
<rect x="772" y="577" width="1" height="9" fill="#C0C0C0"/>
<rect x="780" y="578" width="1" height="8" fill="#C0C0C0"/>
<rect x="788" y="577" width="1" height="9" fill="#C0C0C0"/>
<rect x="796" y="568" width="1" height="18" fill="#C0C0C0"/>
<rect x="804" y="565" width="1" height="21" fill="#C0C0C0"/>
<rect x="812" y="563" width="1" height="23" fill="#C0C0C0"/>
<rect x="820" y="561" width="1" height="25" fill="#C0C0C0"/>
<rect x="828" y="559" width="1" height="27" fill="#C0C0C0"/>
<rect x="836" y="557" width="1" height="29" fill="#C0C0C0"/>
<rect x="844" y="559" width="1" height="27" fill="#C0C0C0"/>
<rect x="852" y="562" width="1" height="24" fill="#C0C0C0"/>
<rect x="860" y="565" width="1" height="21" fill="#C0C0C0"/>
<rect x="868" y="569" width="1" height="17" fill="#C0C0C0"/>
<rect x="876" y="574" width="1" height="12" fill="#C0C0C0"/>
<rect x="884" y="578" width="1" height="8" fill="#C0C0C0"/>
<rect x="892" y="578" width="1" height="8" fill="#C0C0C0"/>
<rect x="900" y="580" width="1" height="6" fill="#C0C0C0"/>
<rect x="908" y="582" width="1" height="4" fill="#C0C0C0"/>
<rect x="916" y="583" width="1" height="3" fill="#C0C0C0"/>
<rect x="924" y="582" width="1" height="4" fill="#C0C0C0"/>
<rect x="932" y="582" width="1" height="4" fill="#C0C0C0"/>
<rect x="940" y="585" width="1" height="1" fill="#C0C0C0"/>
<rect x="948" y="585" width="1" height="3" fill="#C0C0C0"/>
<rect x="956" y="585" width="1" height="5" fill="#C0C0C0"/>
<rect x="964" y="585" width="1" height="6" fill="#C0C0C0"/>
<rect x="972" y="585" width="1" height="7" fill="#C0C0C0"/>
<rect x="980" y="585" width="1" height="6" fill="#C0C0C0"/>
<rect x="988" y="585" width="1" height="2" fill="#C0C0C0"/>
<rect x="1004" y="584" width="1" height="2" fill="#C0C0C0"/>
<rect x="1012" y="582" width="1" height="4" fill="#C0C0C0"/>
<rect x="1020" y="581" width="1" height="5" fill="#C0C0C0"/>
<rect x="1028" y="579" width="1" height="7" fill="#C0C0C0"/>
<rect x="1036" y="579" width="1" height="7" fill="#C0C0C0"/>
<rect x="1044" y="577" width="1" height="9" fill="#C0C0C0"/>
<rect x="1052" y="577" width="1" height="9" fill="#C0C0C0"/>
<rect x="1060" y="584" width="1" height="2" fill="#C0C0C0"/>
<rect x="1068" y="585" width="1" height="3" fill="#C0C0C0"/>
<rect x="1076" y="585" width="1" height="4" fill="#C0C0C0"/>
<rect x="1084" y="585" width="1" height="3" fill="#C0C0C0"/>
<rect x="1100" y="582" width="1" height="4" fill="#C0C0C0"/>
<rect x="1108" y="579" width="1" height="7" fill="#C0C0C0"/>
<rect x="1116" y="578" width="1" height="8" fill="#C0C0C0"/>
<rect x="1124" y="574" width="1" height="12" fill="#C0C0C0"/>
<rect x="1132" y="571" width="1" height="15" fill="#C0C0C0"/>
<rect x="1140" y="569" width="1" height="17" fill="#C0C0C0"/>
<rect x="1148" y="567" width="1" height="19" fill="#C0C0C0"/>
<rect x="1156" y="565" width="1" height="21" fill="#C0C0C0"/>
<rect x="1164" y="562" width="1" height="24" fill="#C0C0C0"/>
<rect x="1172" y="561" width="1" height="25" fill="#C0C0C0"/>
<rect x="1180" y="558" width="1" height="28" fill="#C0C0C0"/>
<rect x="1188" y="556" width="1" height="30" fill="#C0C0C0"/>
<rect x="1196" y="555" width="1" height="31" fill="#C0C0C0"/>
<rect x="1204" y="556" width="1" height="30" fill="#C0C0C0"/>
<rect x="1212" y="560" width="1" height="26" fill="#C0C0C0"/>
<rect x="1220" y="559" width="1" height="27" fill="#C0C0C0"/>
<rect x="1228" y="559" width="1" height="27" fill="#C0C0C0"/>
<rect x="1236" y="557" width="1" height="29" fill="#C0C0C0"/>
<rect x="1244" y="557" width="1" height="29" fill="#C0C0C0"/>
<rect x="1252" y="549" width="1" height="37" fill="#C0C0C0"/>
<rect x="1260" y="544" width="1" height="42" fill="#C0C0C0"/>
<rect x="1268" y="540" width="1" height="46" fill="#C0C0C0"/>
<rect x="1276" y="538" width="1" height="48" fill="#C0C0C0"/>
<rect x="1284" y="537" width="1" height="49" fill="#C0C0C0"/>
<rect x="1292" y="538" width="1" height="48" fill="#C0C0C0"/>
<rect x="1300" y="540" width="1" height="46" fill="#C0C0C0"/>
<rect x="1308" y="540" width="1" height="46" fill="#C0C0C0"/>
<rect x="1316" y="542" width="1" height="44" fill="#C0C0C0"/>
<rect x="1324" y="545" width="1" height="41" fill="#C0C0C0"/>
<rect x="1332" y="548" width="1" height="38" fill="#C0C0C0"/>
<rect x="1340" y="551" width="1" height="35" fill="#C0C0C0"/>
<rect x="1348" y="557" width="1" height="29" fill="#C0C0C0"/>
<rect x="1356" y="560" width="1" height="26" fill="#C0C0C0"/>
<rect x="1364" y="563" width="1" height="23" fill="#C0C0C0"/>
<rect x="1372" y="566" width="1" height="20" fill="#C0C0C0"/>
<rect x="1380" y="571" width="1" height="15" fill="#C0C0C0"/>
<rect x="1388" y="576" width="1" height="10" fill="#C0C0C0"/>
<rect x="1396" y="585" width="1" height="1" fill="#C0C0C0"/>
<rect x="1404" y="585" width="1" height="3" fill="#C0C0C0"/>
<rect x="1412" y="585" width="1" height="5" fill="#C0C0C0"/>
<rect x="1420" y="585" width="1" height="7" fill="#C0C0C0"/>
<rect x="1428" y="585" width="1" height="8" fill="#C0C0C0"/>
<rect x="1436" y="585" width="1" height="6" fill="#C0C0C0"/>
<rect x="1444" y="585" width="1" height="7" fill="#C0C0C0"/>
<rect x="1452" y="585" width="1" height="10" fill="#C0C0C0"/>
<rect x="1460" y="585" width="1" height="10" fill="#C0C0C0"/>
<rect x="1468" y="585" width="1" height="9" fill="#C0C0C0"/>
<rect x="1476" y="585" width="1" height="8" fill="#C0C0C0"/>
<rect x="1484" y="585" width="1" height="5" fill="#C0C0C0"/>
<rect x="1492" y="585" width="1" height="2" fill="#C0C0C0"/>
<rect x="1500" y="584" width="1" height="2" fill="#C0C0C0"/>
<rect x="1508" y="581" width="1" height="5" fill="#C0C0C0"/>
<rect x="1516" y="578" width="1" height="8" fill="#C0C0C0"/>
<rect x="1524" y="574" width="1" height="12" fill="#C0C0C0"/>
<rect x="1532" y="571" width="1" height="15" fill="#C0C0C0"/>
<rect x="1540" y="571" width="1" height="15" fill="#C0C0C0"/>
<rect x="1548" y="564" width="1" height="22" fill="#C0C0C0"/>
<rect x="1556" y="560" width="1" height="26" fill="#C0C0C0"/>
<rect x="1564" y="556" width="1" height="30" fill="#C0C0C0"/>
<rect x="1572" y="554" width="1" height="32" fill="#C0C0C0"/>
<rect x="1580" y="552" width="1" height="34" fill="#C0C0C0"/>
<rect x="1588" y="552" width="1" height="34" fill="#C0C0C0"/>
<rect x="1596" y="549" width="1" height="37" fill="#C0C0C0"/>
<rect x="1604" y="546" width="1" height="40" fill="#C0C0C0"/>
<rect x="1612" y="544" width="1" height="42" fill="#C0C0C0"/>
<rect x="1620" y="540" width="1" height="46" fill="#C0C0C0"/>
<rect x="1628" y="536" width="1" height="50" fill="#C0C0C0"/>
<rect x="1636" y="535" width="1" height="51" fill="#C0C0C0"/>
<rect x="1644" y="532" width="1" height="54" fill="#C0C0C0"/>
<rect x="1652" y="531" width="1" height="55" fill="#C0C0C0"/>
<rect x="1660" y="528" width="1" height="58" fill="#C0C0C0"/>
<rect x="1668" y="527" width="1" height="59" fill="#C0C0C0"/>
<polyline points="4.5,614.2 18.8,606.8 28.0,600.4 37.1,595.8 55.5,588.5 66.5,583.0 77.5,579.4 84.5,577.0 101.2,576.2 110.5,576.2 128.5,578.4 147.0,584.8 156.2,588.5 174.5,592.2 192.8,599.5 196.5,600.4 205.7,602.6 214.8,604.0 224.0,605.9 233.1,607.4 242.3,608.7 251.5,610.5 260.5,611.8 269.8,613.2 278.9,616.0 288.1,620.6 297.2,626.0 306.5,631.6 315.5,638.0 324.7,642.9 333.9,647.1 343.0,650.8 352.2,654.4 361.3,656.8 370.5,658.1 379.5,658.7 388.8,658.1 394.3,656.3 401.7,654.4 410.8,649.0 420.0,644.0 429.1,636.1 438.3,627.0 445.5,616.9 447.5,613.2 456.5,602.2 465.8,591.3 474.9,580.3 484.1,572.0 493.2,564.7 502.5,557.4 511.5,550.0 520.7,543.6 529.9,540.9 539.0,538.1 548.2,537.2 557.3,536.3 566.5,537.2 575.5,537.8 582.8,538.5 603.7,540.1 626.9,540.1 650.1,541.7 673.3,543.6 696.5,547.5 708.1,550.5 719.7,553.3 742.9,557.5 766.1,564.0 777.7,568.0 789.3,569.6 812.5,571.4 826.5,569.6 835.7,566.3 847.3,563.3 858.9,561.7 872.8,561.7 882.1,564.0 905.3,570.3 916.9,575.0 928.5,576.5 940.1,579.6 951.7,582.6 963.3,584.2 980.5,587.2 986.5,588.2 1010.5,588.2 1016.1,587.1 1022.4,586.4 1028.5,585.4 1034.9,584.3 1041.1,583.3 1046.9,582.2 1052.5,581.5 1058.9,580.4 1071.5,580.4 1076.5,581.5 1082.9,582.2 1095.5,582.2 1101.7,583.3 1108.0,583.3 1117.9,583.6 1138.0,580.6 1149.0,576.6 1163.5,572.0 1176.5,567.5 1185.5,565.3 1194.8,562.3 1204.0,560.5 1213.1,559.2 1231.5,557.4 1249.8,555.5 1251.9,555.5 1262.3,552.8 1274.5,550.2 1284.9,548.5 1291.9,545.5 1300.6,542.4 1309.3,541.5 1318.0,540.3 1326.7,539.3 1335.5,540.7 1344.1,541.5 1352.8,544.5 1361.5,547.6 1370.2,550.2 1378.9,553.7 1387.5,558.1 1396.3,562.4 1400.5,565.4 1409.1,568.4 1427.5,579.4 1436.5,583.0 1445.8,586.1 1454.9,589.4 1464.1,592.2 1473.2,593.5 1491.5,592.7 1509.9,590.3 1519.0,588.0 1528.2,586.1 1537.3,581.7 1546.5,578.4 1555.5,573.9 1564.8,570.2 1572.5,567.1 1578.8,563.8 1588.0,561.0 1597.1,558.0 1606.3,555.0 1615.5,551.3 1624.5,548.2 1633.8,545.5 1642.9,543.3 1652.1,539.6 1661.2,537.2 1666.7,534.8" fill="none" stroke="#FF0000" stroke-width="1" stroke-dasharray="3,3"/>
</g>
<text transform="translate(7.3,531) scale(0.94,1)" font-size="10.1" fill="#000" stroke="#000" stroke-width="0.25" text-rendering="geometricPrecision" >MACD(12,26,9) 0.9588 0.8259</text>
<g clip-path="url(#crsi)">
<line x1="4" y1="717.5" x2="1689" y2="717.5" stroke="#C0C0C0" stroke-dasharray="3,3"/>
<line x1="4" y1="773.5" x2="1689" y2="773.5" stroke="#C0C0C0" stroke-dasharray="3,3"/>
<polyline points="4.5,751.6 12.5,734.3 20.5,734.3 28.5,734.3 36.5,733.1 44.5,740.3 52.5,736.4 60.5,740.3 68.5,741.5 76.5,744.4 84.5,744.4 92.5,740.3 100.5,743.5 108.5,754.5 116.5,754.5 124.5,752.5 132.5,757.5 140.5,763.5 148.5,758.4 156.5,754.5 164.5,757.5 172.5,754.5 180.5,758.4 188.5,763.5 196.5,763.5 204.5,763.5 212.5,765.1 220.5,767.2 228.5,763.5 236.5,761.4 244.5,749.6 252.5,764.8 260.5,771.9 268.5,780.0 276.5,781.2 284.5,786.7 292.5,788.4 300.5,786.2 308.5,772.2 316.5,774.4 324.5,770.5 332.5,773.6 340.5,779.5 348.5,779.5 356.5,783.4 364.5,783.4 372.5,774.4 380.5,760.1 388.5,756.4 396.5,748.0 404.5,733.4 412.5,734.4 420.5,733.4 428.5,731.7 436.5,729.7 444.5,726.0 452.5,721.3 460.5,716.5 468.5,720.4 476.5,724.3 484.5,723.3 492.5,718.2 500.5,719.2 508.5,715.4 516.5,721.3 524.5,723.3 532.5,732.2 540.5,729.4 548.5,729.4 556.5,727.7 564.5,727.2 572.5,725.5 580.5,719.2 588.5,717.5 596.5,716.2 604.5,717.5 612.5,719.2 620.5,712.5 628.5,727.2 636.5,740.2 644.5,731.4 652.5,728.3 660.5,727.7 668.5,726.3 676.5,732.2 684.5,733.9 692.5,738.1 700.5,734.4 708.5,740.2 716.5,740.2 724.5,732.2 732.5,730.0 740.5,739.8 748.5,752.0 756.5,746.6 764.5,747.4 772.5,746.2 780.5,740.7 788.5,737.3 796.5,718.2 804.5,730.5 812.5,730.5 820.5,729.4 828.5,728.3 836.5,724.3 844.5,738.1 852.5,741.5 860.5,742.4 868.5,749.6 876.5,752.5 884.5,751.3 892.5,743.2 900.5,746.2 908.5,748.3 916.5,746.9 924.5,740.2 932.5,743.2 940.5,754.7 948.5,759.2 956.5,752.5 964.5,751.3 972.5,752.5 980.5,746.5 988.5,737.8 996.5,736.1 1004.5,735.1 1012.5,733.9 1020.5,738.1 1028.5,735.1 1036.5,742.4 1044.5,731.4 1052.5,741.5 1060.5,760.1 1068.5,760.4 1076.5,753.3 1084.5,743.2 1092.5,737.3 1100.5,733.9 1108.5,735.1 1116.5,735.1 1124.5,729.4 1132.5,731.4 1140.5,730.0 1148.5,729.4 1156.5,726.7 1164.5,722.6 1172.5,722.1 1180.5,719.2 1188.5,717.5 1196.5,722.1 1204.5,727.7 1212.5,735.1 1220.5,728.0 1228.5,726.3 1236.5,723.0 1244.5,719.2 1252.5,707.4 1260.5,707.4 1268.5,709.4 1276.5,707.4 1284.5,712.5 1292.5,715.4 1300.5,723.3 1308.5,718.2 1316.5,725.5 1324.5,728.0 1332.5,733.9 1340.5,732.2 1348.5,746.2 1356.5,738.1 1364.5,739.8 1372.5,745.7 1380.5,749.6 1388.5,755.9 1396.5,767.2 1404.5,757.5 1412.5,753.3 1420.5,754.7 1428.5,751.6 1436.5,744.5 1444.5,749.1 1452.5,758.4 1460.5,752.0 1468.5,750.8 1476.5,742.4 1484.5,741.2 1492.5,737.3 1500.5,734.4 1508.5,731.4 1516.5,732.7 1524.5,726.3 1532.5,728.0 1540.5,736.1 1548.5,719.2 1556.5,722.6 1564.5,721.3 1572.5,721.3 1580.5,721.3 1588.5,724.3 1596.5,716.5 1604.5,715.4 1612.5,715.4 1620.5,707.4 1628.5,706.1 1636.5,713.2 1644.5,709.4 1652.5,708.6 1660.5,706.1 1668.5,707.4" fill="none" stroke="#1E90FF" stroke-width="1" />
</g>
<text transform="translate(7.5,687) scale(0.94,1)" font-size="10.1" fill="#000" stroke="#000" stroke-width="0.25" text-rendering="geometricPrecision" >RSI(14) 77.3596</text>
<rect x="3" y="0" width="1" height="517" fill="#000000"/>
<rect x="3" y="516" width="1687" height="1" fill="#000000"/>
<rect x="3" y="518" width="1" height="155" fill="#000000"/>
<rect x="3" y="518" width="1687" height="1" fill="#000000"/>
<rect x="3" y="672" width="1687" height="1" fill="#000000"/>
<rect x="3" y="674" width="1" height="142" fill="#000000"/>
<rect x="3" y="674" width="1687" height="1" fill="#000000"/>
<rect x="3" y="815" width="1687" height="1" fill="#000000"/>
<rect x="1689" y="0" width="1" height="517" fill="#000000"/>
<rect x="1689" y="518" width="1" height="155" fill="#000000"/>
<rect x="1689" y="674" width="1" height="142" fill="#000000"/>
<rect x="1690" y="18" width="2" height="1" fill="#000000"/>
<text transform="translate(1694.5,22) scale(0.93,1)" font-size="10.1" fill="#000" stroke="#000" stroke-width="0.25" text-rendering="geometricPrecision" >75.905</text>
<rect x="1690" y="51" width="2" height="1" fill="#000000"/>
<text transform="translate(1694.5,55) scale(0.93,1)" font-size="10.1" fill="#000" stroke="#000" stroke-width="0.25" text-rendering="geometricPrecision" >74.955</text>
<rect x="1690" y="84" width="2" height="1" fill="#000000"/>
<text transform="translate(1694.5,88) scale(0.93,1)" font-size="10.1" fill="#000" stroke="#000" stroke-width="0.25" text-rendering="geometricPrecision" >74.005</text>
<rect x="1690" y="117" width="2" height="1" fill="#000000"/>
<text transform="translate(1694.5,121) scale(0.93,1)" font-size="10.1" fill="#000" stroke="#000" stroke-width="0.25" text-rendering="geometricPrecision" >73.030</text>
<rect x="1690" y="150" width="2" height="1" fill="#000000"/>
<text transform="translate(1694.5,154) scale(0.93,1)" font-size="10.1" fill="#000" stroke="#000" stroke-width="0.25" text-rendering="geometricPrecision" >72.080</text>
<rect x="1690" y="183" width="2" height="1" fill="#000000"/>
<text transform="translate(1694.5,187) scale(0.93,1)" font-size="10.1" fill="#000" stroke="#000" stroke-width="0.25" text-rendering="geometricPrecision" >71.130</text>
<rect x="1690" y="216" width="2" height="1" fill="#000000"/>
<text transform="translate(1694.5,220) scale(0.93,1)" font-size="10.1" fill="#000" stroke="#000" stroke-width="0.25" text-rendering="geometricPrecision" >70.155</text>
<rect x="1690" y="249" width="2" height="1" fill="#000000"/>
<text transform="translate(1694.5,253) scale(0.93,1)" font-size="10.1" fill="#000" stroke="#000" stroke-width="0.25" text-rendering="geometricPrecision" >69.205</text>
<rect x="1690" y="282" width="2" height="1" fill="#000000"/>
<text transform="translate(1694.5,286) scale(0.93,1)" font-size="10.1" fill="#000" stroke="#000" stroke-width="0.25" text-rendering="geometricPrecision" >68.255</text>
<rect x="1690" y="315" width="2" height="1" fill="#000000"/>
<text transform="translate(1694.5,319) scale(0.93,1)" font-size="10.1" fill="#000" stroke="#000" stroke-width="0.25" text-rendering="geometricPrecision" >67.305</text>
<rect x="1690" y="348" width="2" height="1" fill="#000000"/>
<text transform="translate(1694.5,352) scale(0.93,1)" font-size="10.1" fill="#000" stroke="#000" stroke-width="0.25" text-rendering="geometricPrecision" >66.330</text>
<rect x="1690" y="381" width="2" height="1" fill="#000000"/>
<text transform="translate(1694.5,385) scale(0.93,1)" font-size="10.1" fill="#000" stroke="#000" stroke-width="0.25" text-rendering="geometricPrecision" >65.380</text>
<rect x="1690" y="414" width="2" height="1" fill="#000000"/>
<text transform="translate(1694.5,418) scale(0.93,1)" font-size="10.1" fill="#000" stroke="#000" stroke-width="0.25" text-rendering="geometricPrecision" >64.430</text>
<rect x="1690" y="447" width="2" height="1" fill="#000000"/>
<text transform="translate(1694.5,451) scale(0.93,1)" font-size="10.1" fill="#000" stroke="#000" stroke-width="0.25" text-rendering="geometricPrecision" >63.455</text>
<rect x="1690" y="480" width="2" height="1" fill="#000000"/>
<text transform="translate(1694.5,484) scale(0.93,1)" font-size="10.1" fill="#000" stroke="#000" stroke-width="0.25" text-rendering="geometricPrecision" >62.505</text>
<rect x="1690" y="513" width="2" height="1" fill="#000000"/>
<text transform="translate(1694.5,517) scale(0.93,1)" font-size="10.1" fill="#000" stroke="#000" stroke-width="0.25" text-rendering="geometricPrecision" >61.555</text>
<rect x="1691" y="29" width="33" height="11" fill="#000000"/>
<rect x="1692" y="30" width="32" height="9" fill="#000000"/>
<text transform="translate(1694.5,38) scale(0.93,1)" font-size="10.1" fill="#FFFFFF" stroke="#FFFFFF" stroke-width="0.25" text-rendering="geometricPrecision" >75.440</text>
<rect x="1691" y="61" width="33" height="11" fill="#1EC31E"/>
<rect x="1692" y="62" width="32" height="9" fill="#32CD32"/>
<text transform="translate(1694.5,70) scale(0.93,1)" font-size="10.1" fill="#FFFFFF" stroke="#FFFFFF" stroke-width="0.25" text-rendering="geometricPrecision" >74.500</text>
<rect x="1691" y="130" width="33" height="11" fill="#2D5BDC"/>
<rect x="1692" y="131" width="32" height="9" fill="#4169E1"/>
<text transform="translate(1694.5,139) scale(0.93,1)" font-size="10.1" fill="#FFFFFF" stroke="#FFFFFF" stroke-width="0.25" text-rendering="geometricPrecision" >72.500</text>
<rect x="1691" y="216" width="33" height="11" fill="#2D5BDC"/>
<rect x="1692" y="217" width="32" height="9" fill="#4169E1"/>
<text transform="translate(1694.5,225) scale(0.93,1)" font-size="10.1" fill="#FFFFFF" stroke="#FFFFFF" stroke-width="0.25" text-rendering="geometricPrecision" >70.000</text>
<rect x="1691" y="302" width="33" height="11" fill="#2D5BDC"/>
<rect x="1692" y="303" width="32" height="9" fill="#4169E1"/>
<text transform="translate(1694.5,311) scale(0.93,1)" font-size="10.1" fill="#FFFFFF" stroke="#FFFFFF" stroke-width="0.25" text-rendering="geometricPrecision" >67.500</text>
<rect x="1690" y="520" width="1" height="1" fill="#000000"/>
<text transform="translate(1693,529) scale(0.903,1)" font-size="10.1" fill="#000" stroke="#000" stroke-width="0.25" text-rendering="geometricPrecision" >1.0727</text>
<rect x="1690" y="585" width="1" height="1" fill="#000000"/>
<text transform="translate(1693,589) scale(0.903,1)" font-size="10.1" fill="#000" stroke="#000" stroke-width="0.25" text-rendering="geometricPrecision" >0.00</text>
<rect x="1690" y="671" width="1" height="1" fill="#000000"/>
<text transform="translate(1693,669) scale(0.903,1)" font-size="10.1" fill="#000" stroke="#000" stroke-width="0.25" text-rendering="geometricPrecision" >-1.4316</text>
<rect x="1690" y="676" width="1" height="1" fill="#000000"/>
<text transform="translate(1693,685) scale(0.903,1)" font-size="10.1" fill="#000" stroke="#000" stroke-width="0.25" text-rendering="geometricPrecision" >100</text>
<rect x="1690" y="717" width="1" height="1" fill="#000000"/>
<text transform="translate(1693,721) scale(0.903,1)" font-size="10.1" fill="#000" stroke="#000" stroke-width="0.25" text-rendering="geometricPrecision" >70</text>
<rect x="1690" y="773" width="1" height="1" fill="#000000"/>
<text transform="translate(1693,777) scale(0.903,1)" font-size="10.1" fill="#000" stroke="#000" stroke-width="0.25" text-rendering="geometricPrecision" >30</text>
<rect x="1690" y="814" width="1" height="1" fill="#000000"/>
<text transform="translate(1693,812) scale(0.903,1)" font-size="10.1" fill="#000" stroke="#000" stroke-width="0.25" text-rendering="geometricPrecision" >0</text>
<rect x="4" y="816" width="1" height="3" fill="#000000"/>
<text transform="translate(2.8,828) scale(0.958,1)" font-size="10.1" fill="#000" stroke="#000" stroke-width="0.25" text-rendering="geometricPrecision" >11 Aug 2021</text>
<rect x="68" y="816" width="1" height="3" fill="#000000"/>
<text transform="translate(66.8,828) scale(0.958,1)" font-size="10.1" fill="#000" stroke="#000" stroke-width="0.25" text-rendering="geometricPrecision" >12 Aug 20:00</text>
<rect x="132" y="816" width="1" height="3" fill="#000000"/>
<text transform="translate(130.8,828) scale(0.958,1)" font-size="10.1" fill="#000" stroke="#000" stroke-width="0.25" text-rendering="geometricPrecision" >16 Aug 00:00</text>
<rect x="196" y="816" width="1" height="3" fill="#000000"/>
<text transform="translate(194.8,828) scale(0.958,1)" font-size="10.1" fill="#000" stroke="#000" stroke-width="0.25" text-rendering="geometricPrecision" >17 Aug 08:00</text>
<rect x="260" y="816" width="1" height="3" fill="#000000"/>
<text transform="translate(258.8,828) scale(0.958,1)" font-size="10.1" fill="#000" stroke="#000" stroke-width="0.25" text-rendering="geometricPrecision" >18 Aug 16:00</text>
<rect x="324" y="816" width="1" height="3" fill="#000000"/>
<text transform="translate(322.8,828) scale(0.958,1)" font-size="10.1" fill="#000" stroke="#000" stroke-width="0.25" text-rendering="geometricPrecision" >20 Aug 00:00</text>
<rect x="388" y="816" width="1" height="3" fill="#000000"/>
<text transform="translate(386.8,828) scale(0.958,1)" font-size="10.1" fill="#000" stroke="#000" stroke-width="0.25" text-rendering="geometricPrecision" >23 Aug 04:00</text>
<rect x="452" y="816" width="1" height="3" fill="#000000"/>
<text transform="translate(450.8,828) scale(0.958,1)" font-size="10.1" fill="#000" stroke="#000" stroke-width="0.25" text-rendering="geometricPrecision" >24 Aug 12:00</text>
<rect x="516" y="816" width="1" height="3" fill="#000000"/>
<text transform="translate(514.8,828) scale(0.958,1)" font-size="10.1" fill="#000" stroke="#000" stroke-width="0.25" text-rendering="geometricPrecision" >25 Aug 20:00</text>
<rect x="580" y="816" width="1" height="3" fill="#000000"/>
<text transform="translate(578.8,828) scale(0.958,1)" font-size="10.1" fill="#000" stroke="#000" stroke-width="0.25" text-rendering="geometricPrecision" >27 Aug 04:00</text>
<rect x="644" y="816" width="1" height="3" fill="#000000"/>
<text transform="translate(642.8,828) scale(0.958,1)" font-size="10.1" fill="#000" stroke="#000" stroke-width="0.25" text-rendering="geometricPrecision" >30 Aug 08:00</text>
<rect x="708" y="816" width="1" height="3" fill="#000000"/>
<text transform="translate(706.8,828) scale(0.958,1)" font-size="10.1" fill="#000" stroke="#000" stroke-width="0.25" text-rendering="geometricPrecision" >31 Aug 16:00</text>
<rect x="772" y="816" width="1" height="3" fill="#000000"/>
<text transform="translate(770.8,828) scale(0.958,1)" font-size="10.1" fill="#000" stroke="#000" stroke-width="0.25" text-rendering="geometricPrecision" >2 Sep 00:00</text>
<rect x="836" y="816" width="1" height="3" fill="#000000"/>
<text transform="translate(834.8,828) scale(0.958,1)" font-size="10.1" fill="#000" stroke="#000" stroke-width="0.25" text-rendering="geometricPrecision" >3 Sep 08:00</text>
<rect x="900" y="816" width="1" height="3" fill="#000000"/>
<text transform="translate(898.8,828) scale(0.958,1)" font-size="10.1" fill="#000" stroke="#000" stroke-width="0.25" text-rendering="geometricPrecision" >6 Sep 12:00</text>
<rect x="964" y="816" width="1" height="3" fill="#000000"/>
<text transform="translate(962.8,828) scale(0.958,1)" font-size="10.1" fill="#000" stroke="#000" stroke-width="0.25" text-rendering="geometricPrecision" >7 Sep 20:00</text>
<rect x="1028" y="816" width="1" height="3" fill="#000000"/>
<text transform="translate(1026.8,828) scale(0.958,1)" font-size="10.1" fill="#000" stroke="#000" stroke-width="0.25" text-rendering="geometricPrecision" >9 Sep 00:00</text>
<rect x="1092" y="816" width="1" height="3" fill="#000000"/>
<text transform="translate(1090.8,828) scale(0.958,1)" font-size="10.1" fill="#000" stroke="#000" stroke-width="0.25" text-rendering="geometricPrecision" >10 Sep 08:00</text>
<rect x="1156" y="816" width="1" height="3" fill="#000000"/>
<text transform="translate(1154.8,828) scale(0.958,1)" font-size="10.1" fill="#000" stroke="#000" stroke-width="0.25" text-rendering="geometricPrecision" >13 Sep 12:00</text>
<rect x="1220" y="816" width="1" height="3" fill="#000000"/>
<text transform="translate(1218.8,828) scale(0.958,1)" font-size="10.1" fill="#000" stroke="#000" stroke-width="0.25" text-rendering="geometricPrecision" >14 Sep 20:00</text>
<rect x="1284" y="816" width="1" height="3" fill="#000000"/>
<text transform="translate(1282.8,828) scale(0.958,1)" font-size="10.1" fill="#000" stroke="#000" stroke-width="0.25" text-rendering="geometricPrecision" >16 Sep 04:00</text>
<rect x="1348" y="816" width="1" height="3" fill="#000000"/>
<text transform="translate(1346.8,828) scale(0.958,1)" font-size="10.1" fill="#000" stroke="#000" stroke-width="0.25" text-rendering="geometricPrecision" >17 Sep 12:00</text>
<rect x="1412" y="816" width="1" height="3" fill="#000000"/>
<text transform="translate(1410.8,828) scale(0.958,1)" font-size="10.1" fill="#000" stroke="#000" stroke-width="0.25" text-rendering="geometricPrecision" >20 Sep 16:00</text>
<rect x="1476" y="816" width="1" height="3" fill="#000000"/>
<text transform="translate(1474.8,828) scale(0.958,1)" font-size="10.1" fill="#000" stroke="#000" stroke-width="0.25" text-rendering="geometricPrecision" >22 Sep 00:00</text>
<rect x="1540" y="816" width="1" height="3" fill="#000000"/>
<text transform="translate(1538.8,828) scale(0.958,1)" font-size="10.1" fill="#000" stroke="#000" stroke-width="0.25" text-rendering="geometricPrecision" >23 Sep 08:00</text>
<rect x="1604" y="816" width="1" height="3" fill="#000000"/>
<text transform="translate(1602.8,828) scale(0.958,1)" font-size="10.1" fill="#000" stroke="#000" stroke-width="0.25" text-rendering="geometricPrecision" >24 Sep 16:00</text>
<rect x="1668" y="816" width="1" height="3" fill="#000000"/>
<text transform="translate(1666.8,828) scale(0.958,1)" font-size="10.1" fill="#000" stroke="#000" stroke-width="0.25" text-rendering="geometricPrecision" >27 Sep 20:00</text>
<rect x="0" y="836" width="1724" height="1" fill="#E3E3E3"/>
<rect x="0" y="838" width="6" height="1" fill="#000000"/>
<rect x="5" y="838" width="1" height="3" fill="#000000"/>
<rect x="0" y="839" width="5" height="2" fill="#F0F0F0"/>
<rect x="84" y="838" width="1640" height="1" fill="#000000"/>
<rect x="84" y="838" width="1" height="3" fill="#000000"/>
<rect x="85" y="839" width="1639" height="2" fill="#F0F0F0"/>
</svg></body></html>
